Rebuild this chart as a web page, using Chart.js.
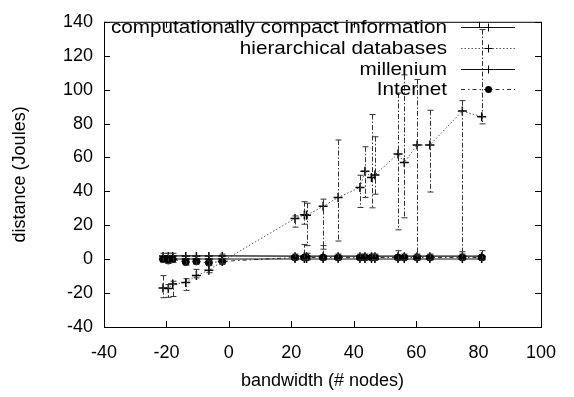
<!DOCTYPE html>
<html>
<head>
<meta charset="utf-8">
<script src="https://cdn.jsdelivr.net/npm/chart.js@4/dist/chart.umd.min.js"></script>
<style>
  html, body { margin: 0; padding: 0; background: #fff; }
</style>
</head>
<body>
<canvas id="bandwidthChart" width="574" height="397"></canvas>
<script>
// bandwidth (# nodes) for every measurement
const bandwidth = [-21.1, -19.4, -18.0, -13.8, -10.4, -6.4, -2.1, 21.2, 24.2, 24.9, 30.2,
                   35.0, 42.0, 43.6, 45.7, 46.8, 54.2, 56.2, 60.3, 64.4, 74.8, 81.0];

// distance (Joules) per series
const compactVals   = [1.9, 1.9, 1.9, 1.9, 1.9, 1.9, 1.9, 1.8, 1.8, 1.8, 1.8,
                       1.8, 1.8, 1.8, 1.8, 1.8, 1.8, 1.8, 1.8, 1.8, 1.8, 1.8];
const hierarchVals  = [-17.0, -17.3, -14.7, -13.7, -9.7, -6.5, -1.3, 24.0, 26.2, 25.9, 31.2,
                       36.4, 42.3, 51.8, 48.2, 49.7, 62.1, 57.0, 67.4, 67.3, 87.4, 84.0];
const hierarchLow   = [-22.7, -22.5, -22.0, -18.4, -11.0, -8.0, -2.5, 18.9, 20.6, 8.0, 5.9,
                       10.7, 30.5, 36.4, 30.3, 38.3, 17.3, 24.4, 2.0, 39.6, 4.4, 79.8];
const hierarchHigh  = [-9.7, -15.0, -13.0, -11.5, -6.0, -1.0, 0.5, 25.5, 33.9, 33.0, 35.4,
                       70.3, 49.5, 66.3, 85.3, 72.2, 98.0, 108.7, 106.0, 87.8, 93.5, 135.4];
const milleniumVals = [0.1, 0.1, 0.1, 0.1, 0.1, 0.1, 0.1, 0.1, 0.1, 0.1, 0.1,
                       0.1, 0.1, 0.1, 0.1, 0.1, 0.1, 0.1, 0.1, 0.1, 0.1, 0.1];
const internetVals  = [0.0, -0.8, 0.0, -1.7, -1.3, -2.1, -1.3, 1.0, 1.0, 1.0, 1.0,
                       1.0, 1.0, 1.0, 1.0, 1.0, 1.0, 1.0, 1.0, 1.0, 1.0, 1.0];
const internetLow   = [-2.0, -2.5, -2.0, -3.5, -3.0, -3.5, -3.0, -0.5, -0.5, -0.5, -0.5,
                       -0.5, -0.5, -0.5, -0.5, -0.5, -0.5, -0.5, -0.5, -0.5, -0.5, -0.5];
const internetHigh  = [3.5, 3.5, 3.5, 2.0, 2.0, 2.0, 3.0, 3.0, 8.6, 3.5, 8.0,
                       3.0, 3.0, 3.0, 3.0, 3.0, 5.0, 3.0, 3.0, 3.0, 3.0, 5.0];

const seriesNames = ['computationally compact information', 'hierarchical databases', 'millenium', 'Internet'];
const xTicks = [-40, 100, 20];   // min, max, step
const yTicks = [-40, 140, 20];

const FONT = 'Liberation Sans, Arial, Helvetica, sans-serif';

function toPoints(ys) {
    return bandwidth.map((x, i) => ({ x: x, y: ys[i] }));
}

// vertical error bars with little caps
const errorBarPlugin = {
    id: 'errorBars',
    afterDatasetsDraw(chart) {
        const ctx = chart.ctx;
        const xs = chart.scales.x, ys = chart.scales.y;
        chart.data.datasets.forEach(ds => {
            if (!ds.errLow) return;
            ctx.save();
            ctx.strokeStyle = ds.errColor;
            ctx.lineWidth = 1;
            ds.data.forEach((pt, i) => {
                const px = Math.round(xs.getPixelForValue(pt.x)) + 0.5;
                const top = ys.getPixelForValue(ds.errHigh[i]);
                const bot = ys.getPixelForValue(ds.errLow[i]);
                ctx.setLineDash(ds.errDash);
                ctx.beginPath();
                ctx.moveTo(px, top);
                ctx.lineTo(px, bot);
                ctx.stroke();
                ctx.setLineDash([]);
                ctx.beginPath();
                ctx.moveTo(px - 3, top); ctx.lineTo(px + 3, top);
                ctx.moveTo(px - 3, bot); ctx.lineTo(px + 3, bot);
                ctx.stroke();
            });
            ctx.restore();
        });
    }
};

// gnuplot style frame with inward ticks on all four sides
const framePlugin = {
    id: 'frame',
    afterDraw(chart) {
        const ctx = chart.ctx, a = chart.chartArea;
        const xs = chart.scales.x, ys = chart.scales.y;
        ctx.save();
        ctx.strokeStyle = '#000';
        ctx.lineWidth = 1;
        ctx.strokeRect(a.left + 0.5, a.top + 0.5, a.right - a.left, a.bottom - a.top);
        ctx.beginPath();
        xs.ticks.forEach(t => {
            const px = Math.round(xs.getPixelForValue(t.value)) + 0.5;
            ctx.moveTo(px, a.bottom); ctx.lineTo(px, a.bottom - 6);
            ctx.moveTo(px, a.top); ctx.lineTo(px, a.top + 6);
        });
        ys.ticks.forEach(t => {
            const py = Math.round(ys.getPixelForValue(t.value)) + 0.5;
            ctx.moveTo(a.left, py); ctx.lineTo(a.left + 6, py);
            ctx.moveTo(a.right, py); ctx.lineTo(a.right - 6, py);
        });
        ctx.stroke();
        ctx.restore();
    }
};

// legend in the top right corner: text right aligned, sample on the right
const keyPlugin = {
    id: 'key',
    afterDraw(chart) {
        const ctx = chart.ctx;
        const textRight = 447, lineL = 461, lineR = 515, rowY = [27, 48, 69, 89];
        ctx.save();
        chart.data.datasets.forEach((ds, i) => {
            const y = rowY[i];
            ctx.save();
            ctx.translate(textRight, y);
            ctx.scale(1.09, 1);
            ctx.font = '19px ' + FONT;
            ctx.fillStyle = '#000';
            ctx.textAlign = 'right';
            ctx.textBaseline = 'middle';
            ctx.fillText(ds.label, 0, 1);
            ctx.restore();
            ctx.strokeStyle = ds.borderColor;
            ctx.lineWidth = 1;
            ctx.setLineDash(ds.borderDash || []);
            ctx.beginPath();
            ctx.moveTo(lineL, y + 0.5);
            ctx.lineTo(lineR, y + 0.5);
            ctx.stroke();
            ctx.setLineDash([]);
            const mx = (lineL + lineR) / 2 + 0.5;
            if (ds.pointStyle === 'circle') {
                ctx.fillStyle = '#000';
                ctx.beginPath();
                ctx.arc(mx, y + 0.5, 3.5, 0, Math.PI * 2);
                ctx.fill();
            } else {
                ctx.strokeStyle = '#000';
                ctx.beginPath();
                ctx.moveTo(mx - 4, y + 0.5); ctx.lineTo(mx + 4, y + 0.5);
                ctx.moveTo(mx, y - 3.5); ctx.lineTo(mx, y + 4.5);
                ctx.stroke();
            }
        });
        ctx.restore();
    }
};

let ctx = document.getElementById('bandwidthChart').getContext('2d');
let bandwidthChart = new Chart(ctx, {
    type: 'scatter',
    data: {
        datasets: [{
            label: seriesNames[0],
            data: toPoints(compactVals),
            showLine: true,
            borderColor: '#111',
            borderWidth: 1.2,
            pointStyle: 'cross',
            pointRadius: 4,
            pointBorderColor: '#000',
            pointBorderWidth: 1.5
        }, {
            label: seriesNames[1],
            data: toPoints(hierarchVals),
            showLine: true,
            borderColor: '#555',
            borderWidth: 1,
            borderDash: [1.5, 2],
            pointStyle: 'cross',
            pointRadius: 4.5,
            pointBorderColor: '#000',
            pointBorderWidth: 1.5,
            errLow: hierarchLow,
            errHigh: hierarchHigh,
            errColor: '#333',
            errDash: [5, 2, 1.5, 2]
        }, {
            label: seriesNames[2],
            data: toPoints(milleniumVals),
            showLine: true,
            borderColor: '#111',
            borderWidth: 1.2,
            pointStyle: 'cross',
            pointRadius: 4,
            pointBorderColor: '#000',
            pointBorderWidth: 1.5
        }, {
            label: seriesNames[3],
            data: toPoints(internetVals),
            showLine: true,
            borderColor: '#333',
            borderWidth: 1,
            borderDash: [4, 3, 1.5, 3],
            pointStyle: 'circle',
            pointRadius: 3.5,
            pointBackgroundColor: '#000',
            pointBorderColor: '#000',
            pointBorderWidth: 1,
            errLow: internetLow,
            errHigh: internetHigh,
            errColor: '#333',
            errDash: [3, 2]
        }]
    },
    options: {
        responsive: false,
        animation: false,
        events: [],
        layout: { padding: { top: 12, right: 33, left: 0, bottom: 0 } },
        plugins: {
            legend: { display: false },
            tooltip: { enabled: false }
        },
        scales: {
            x: {
                type: 'linear',
                min: xTicks[0], max: xTicks[1],
                border: { display: false },
                grid: { display: false, drawTicks: false },
                ticks: { stepSize: xTicks[2], padding: 15, color: '#000', font: { family: FONT, size: 18 } },
                title: { display: true, text: 'bandwidth (# nodes)', color: '#000',
                         font: { family: FONT, size: 18 }, padding: { top: 0, bottom: 5 } },
                afterFit(scale) { scale.height = 70; }
            },
            y: {
                type: 'linear',
                min: yTicks[0], max: yTicks[1],
                border: { display: false },
                grid: { display: false, drawTicks: false },
                ticks: { stepSize: yTicks[2], padding: 11, color: '#000', font: { family: FONT, size: 18 } },
                title: { display: true, text: 'distance (Joules)', color: '#000',
                         font: { family: FONT, size: 18 }, padding: { top: 9, bottom: 0 } },
                afterFit(scale) { scale.width = 104; }
            }
        }
    },
    plugins: [errorBarPlugin, framePlugin, keyPlugin]
});
</script>
</body>
</html>
